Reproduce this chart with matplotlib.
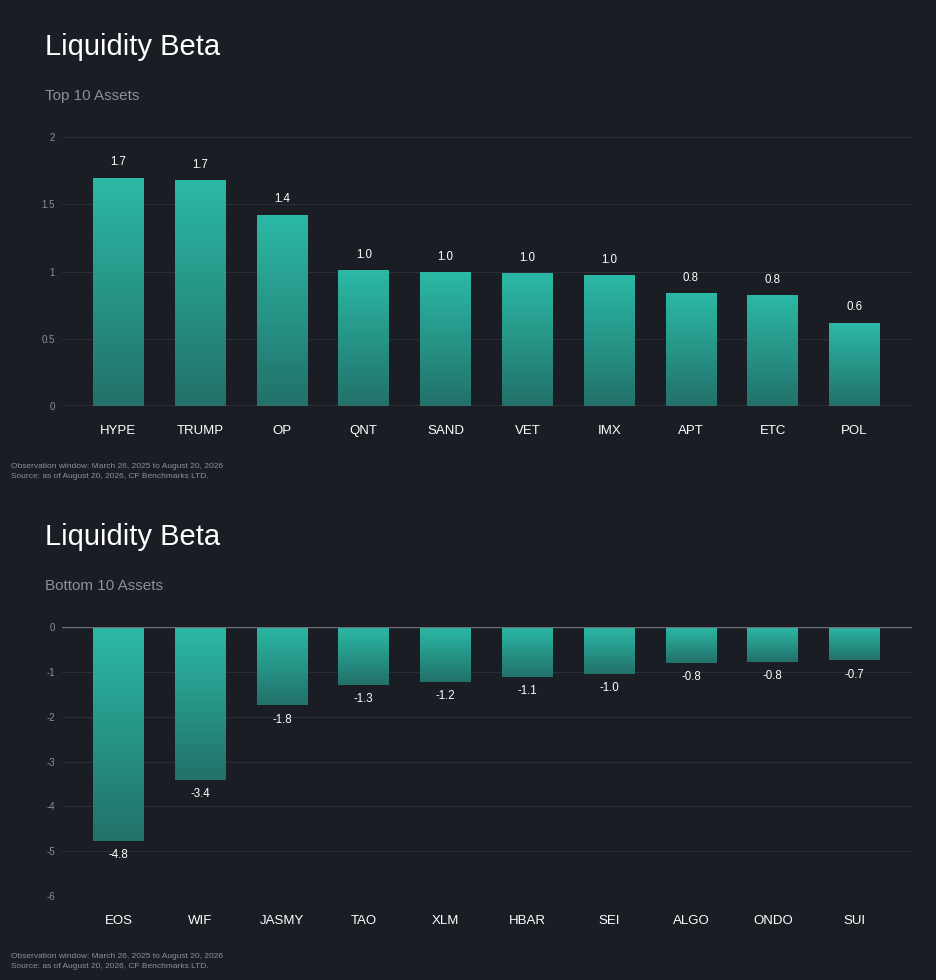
import numpy as np
import matplotlib.pyplot as plt
from matplotlib.colors import LinearSegmentedColormap

plt.rcParams["font.family"] = ["Liberation Sans", "DejaVu Sans"]

top_assets = ["HYPE", "TRUMP", "OP", "QNT", "SAND", "VET", "IMX", "APT", "ETC", "POL"]
top_beta = [1.695, 1.673, 1.42, 1.005, 0.994, 0.984, 0.967, 0.838, 0.82, 0.617]
top_ticks = [0, 0.5, 1, 1.5, 2]
top_tick_labels = ["0", "0.5", "1", "1.5", "2"]

bottom_assets = ["EOS", "WIF", "JASMY", "TAO", "XLM", "HBAR", "SEI", "ALGO", "ONDO", "SUI"]
bottom_beta = [-4.77, -3.41, -1.75, -1.29, -1.22, -1.11, -1.04, -0.80, -0.78, -0.74]
bottom_ticks = [0, -1, -2, -3, -4, -5, -6]

title = "Liquidity Beta"
note1 = "Observation window: March 26, 2025 to August 20, 2026"
note2 = "Source: as of August 20, 2026, CF Benchmarks LTD."

BG = "#1a1d23"
GRID = "#2a2e35"
AXLINE = "#6b7079"
MUTED = "#8b9099"
LIGHT = "#2bb9a5"
DARK = "#22716a"
cmap = LinearSegmentedColormap.from_list("bar", [LIGHT, DARK])
grad = np.linspace(0, 1, 256).reshape(-1, 1)


def gradient_bars(ax, names, vals, ylim, ticks, labels, label_above):
    x = np.arange(len(names))
    w = 0.62
    ax.set_facecolor(BG)
    for xi, v in zip(x, vals):
        top = max(v, 0)
        bot = min(v, 0)
        ax.imshow(grad, cmap=cmap, aspect="auto", origin="upper",
                  extent=(xi - w / 2, xi + w / 2, bot, top), zorder=2)
        if label_above:
            ax.annotate(f"{v:.1f}", (xi, v), xytext=(0, 7), textcoords="offset points",
                        ha="center", va="bottom", color="white", fontsize=8.3)
        else:
            ax.annotate(f"{v:.1f}", (xi, v), xytext=(0, -6), textcoords="offset points",
                        ha="center", va="top", color="white", fontsize=8.3)
    ax.set_xlim(-0.69, 9.70)
    ax.set_ylim(*ylim)
    ax.set_yticks(ticks)
    ax.set_yticklabels(labels)
    ax.set_xticks(x)
    ax.set_xticklabels(names)
    ax.tick_params(axis="y", length=0, pad=5, labelsize=7, labelcolor=MUTED)
    ax.tick_params(axis="x", length=0, pad=14, labelsize=9.5, labelcolor="white")
    for s in ax.spines.values():
        s.set_visible(False)
    for t in ticks:
        if t != 0:
            ax.axhline(t, color=GRID, linewidth=0.8, zorder=1)
    ax.axhline(0, color=AXLINE, linewidth=1, zorder=4)


fig = plt.figure(figsize=(9.36, 9.8), dpi=100, facecolor=BG)

ax1 = fig.add_axes([0.0662, 0.5857, 0.908, 0.2745])
gradient_bars(ax1, top_assets, top_beta, (0, 2), top_ticks, top_tick_labels, True)

ax2 = fig.add_axes([0.0662, 0.0857, 0.908, 0.2745])
gradient_bars(ax2, bottom_assets, bottom_beta, (-6, 0), bottom_ticks,
              [str(t) for t in bottom_ticks], False)

# headers and footnotes
for y0, sub in [(0, "Top 10 Assets"), (490, "Bottom 10 Assets")]:
    fig.text(45 / 936, 1 - (47 + y0) / 980, title, color="white", fontsize=21,
             va="center", ha="left")
    fig.text(45 / 936, 1 - (96 + y0) / 980, sub, color=MUTED, fontsize=11,
             va="center", ha="left")
    fig.text(11 / 936, 1 - (466 + y0) / 980, note1, color=MUTED, fontsize=6,
             va="center", ha="left")
    fig.text(11 / 936, 1 - (476 + y0) / 980, note2, color=MUTED, fontsize=6,
             va="center", ha="left")

fig.savefig("out.png", dpi=100, facecolor=BG)
